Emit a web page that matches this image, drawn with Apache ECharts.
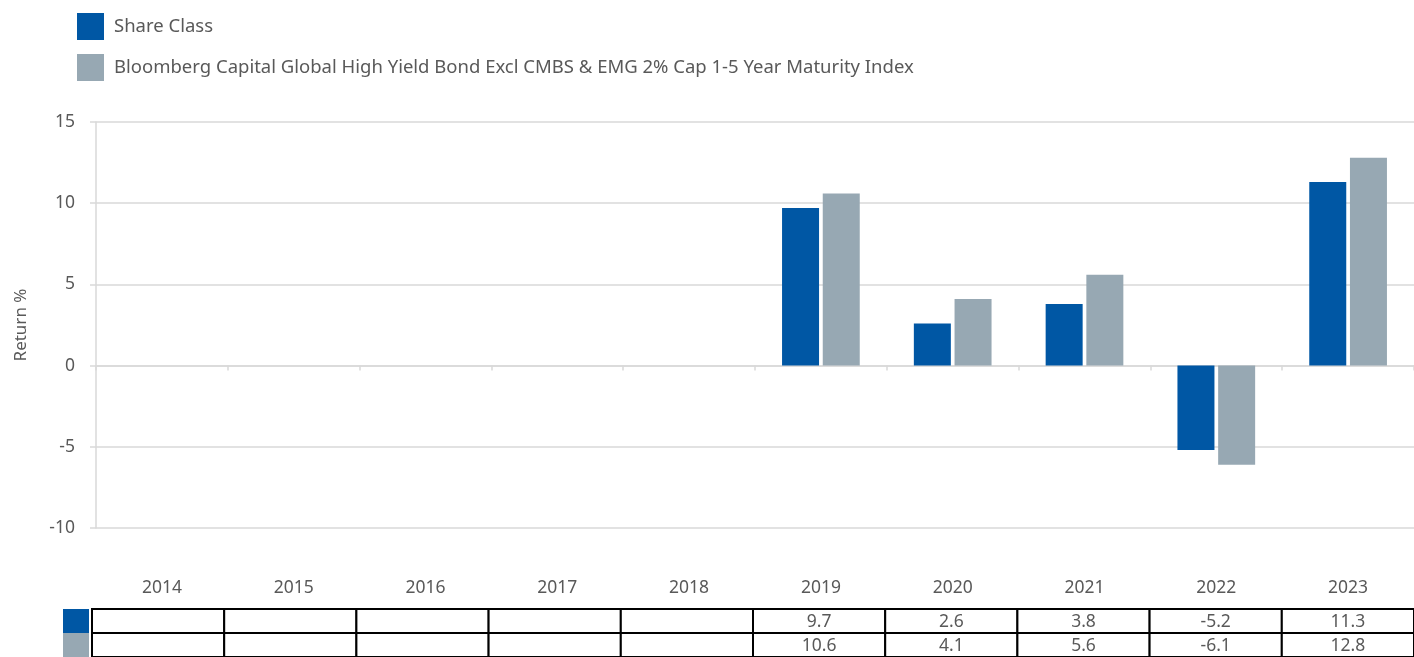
<!DOCTYPE html>
<html>
<head>
<meta charset="utf-8">
<script src="https://cdn.jsdelivr.net/npm/echarts@6/dist/echarts.min.js"></script>
<style>
html,body{margin:0;padding:0;background:#fff;}
#chart{width:1414px;height:657px;}
</style>
</head>
<body>
<div id="chart"></div>
<script>
const years = ['2014','2015','2016','2017','2018','2019','2020','2021','2022','2023'];
const shareClass = [null,null,null,null,null,9.7,2.6,3.8,-5.2,11.3];
const indexReturns = [null,null,null,null,null,10.6,4.1,5.6,-6.1,12.8];
const seriesNames = ['Share Class','Bloomberg Capital Global High Yield Bond Excl CMBS & EMG 2% Cap 1-5 Year Maturity Index'];
const colors = ['#0057A4','#97A8B3'];
const rows = [shareClass, indexReturns];

const FONT = 'Noto Sans';
const TXT = '#595959';

const tableData = [];
rows.forEach((r, j) => years.forEach((y, i) => tableData.push([i, j])));

const chart = echarts.init(document.getElementById('chart'));
chart.setOption({
  animation: false,
  textStyle: {fontFamily: FONT},
  color: colors,
  legend: {
    orient: 'vertical', left: 77, top: 13, itemWidth: 27, itemHeight: 27, itemGap: 14,
    icon: 'rect', padding: 0,
    textStyle: {fontSize: 18.5, color: TXT, fontFamily: FONT, padding: [0,0,0,5]},
    data: seriesNames
  },
  grid: [
    {left: 96, width: 1328, top: 122, height: 406},
    {left: 92, width: 1332, top: 609, height: 49}
  ],
  xAxis: [
    {type: 'category', data: years, gridIndex: 0,
     axisLine: {onZero: true, lineStyle: {color: '#D9D9D9', width: 1.5}},
     axisTick: {show: true, length: 5, lineStyle: {color: '#D9D9D9', width: 1.5}},
     axisLabel: {show: false}},
    {type: 'category', data: years, gridIndex: 0, position: 'bottom',
     axisLine: {show: false, onZero: false}, axisTick: {show: false},
     axisLabel: {show: true, margin: 51, fontSize: 17.5, color: TXT, fontFamily: FONT}},
    {type: 'category', data: years, gridIndex: 1,
     axisLine: {show: false}, axisTick: {show: false}, axisLabel: {show: false}}
  ],
  yAxis: [
    {type: 'value', min: -10, max: 15, interval: 5, gridIndex: 0,
     name: 'Return %', nameLocation: 'middle', nameGap: 66,
     nameTextStyle: {fontSize: 17, color: TXT, fontFamily: FONT},
     axisLine: {show: true, lineStyle: {color: '#D9D9D9', width: 1.5}},
     axisTick: {show: true, length: 6, lineStyle: {color: '#D9D9D9', width: 1.5}},
     splitLine: {lineStyle: {color: '#D9D9D9', width: 1.5}},
     axisLabel: {margin: 21, fontSize: 17.5, color: TXT, fontFamily: FONT}},
    {type: 'category', data: ['a','b'], inverse: true, gridIndex: 1,
     axisLine: {show: false}, axisTick: {show: false}, splitLine: {show: false},
     axisLabel: {show: true, margin: 3,
       formatter: (v) => v === 'a' ? '{a|}' : '{b|}',
       rich: {
         a: {backgroundColor: colors[0], width: 26, height: 24},
         b: {backgroundColor: colors[1], width: 26, height: 24}
       }}}
  ],
  series: [
    {name: seriesNames[0], type: 'bar', data: shareClass, xAxisIndex: 0, yAxisIndex: 0,
     barWidth: 37, barGap: '10%', itemStyle: {color: colors[0]}},
    {name: seriesNames[1], type: 'bar', data: indexReturns, xAxisIndex: 0, yAxisIndex: 0,
     barWidth: 37, barGap: '10%', itemStyle: {color: colors[1]}},
    {type: 'custom', xAxisIndex: 2, yAxisIndex: 1, data: tableData, silent: true,
     renderItem: (params, api) => {
       const i = api.value(0), j = api.value(1);
       const c = api.coord([i, j]);
       const s = api.size([1, 1]);
       const v = rows[j][i];
       return {
         type: 'group',
         children: [
           {type: 'rect', shape: {x: c[0]-s[0]/2, y: c[1]-s[1]/2, width: s[0], height: s[1]},
            style: {fill: '#fff', stroke: '#000', lineWidth: 2}},
           {type: 'text', style: {x: c[0], y: c[1] + 1, text: v == null ? '' : v.toFixed(1),
             align: 'center', verticalAlign: 'middle', fontSize: 17.5, fill: TXT, fontFamily: FONT}}
         ]
       };
     }}
  ]
});
</script>
</body>
</html>
